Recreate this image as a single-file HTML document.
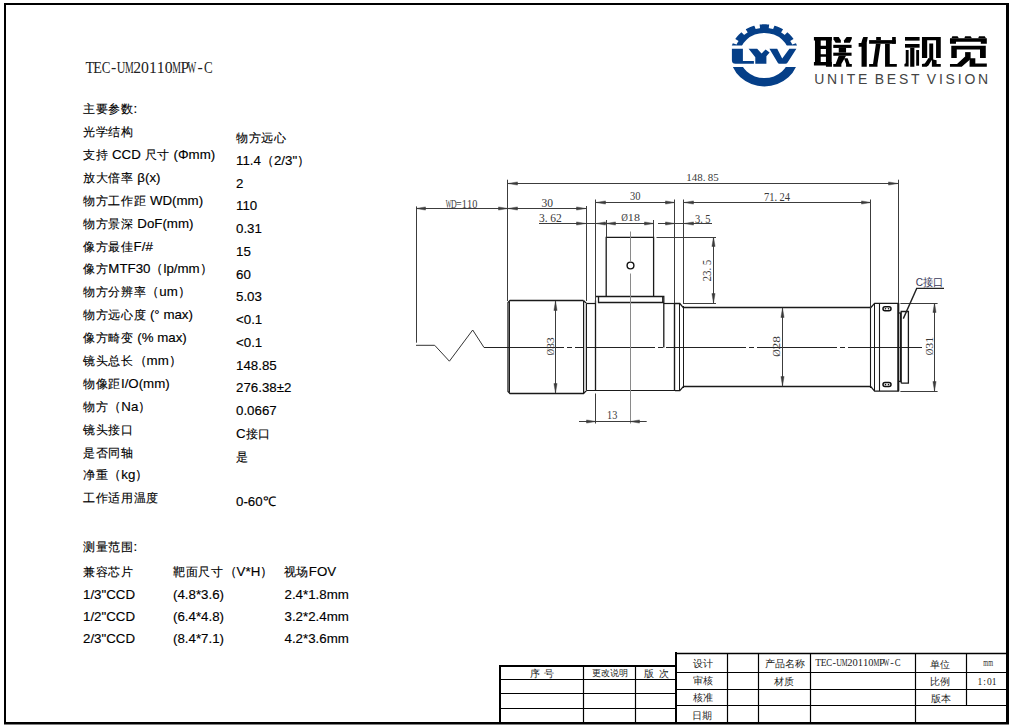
<!DOCTYPE html>
<html><head><meta charset="utf-8"><style>
html,body{margin:0;padding:0;background:#fff;width:1014px;height:727px;overflow:hidden;position:relative}
.t{position:absolute;white-space:nowrap;line-height:1;}
.c{font-size:12.2px;letter-spacing:0.65px;-webkit-text-stroke:0.12px #000}
svg{position:absolute;left:0;top:0}
</style></head><body>
<svg width="1014" height="727" viewBox="0 0 1014 727">
<rect x="4" y="3" width="1005" height="2" fill="#000"/>
<rect x="4" y="3" width="2" height="721" fill="#000"/>
<rect x="1006" y="3" width="3" height="721" fill="#000"/>
<rect x="4" y="722" width="1005" height="2.5" fill="#000"/>
<g stroke="#000" fill="none">
<rect x="499" y="665" width="2" height="58" fill="#000" stroke="none"/>
<rect x="499" y="665" width="177" height="2" fill="#000" stroke="none"/>
<rect x="675" y="652" width="2" height="71" fill="#000" stroke="none"/>
<line x1="500" y1="679.5" x2="676" y2="679.5" stroke-width="1.2"/>
<line x1="500" y1="693.5" x2="676" y2="693.5" stroke-width="1.2"/>
<line x1="500" y1="708.5" x2="676" y2="708.5" stroke-width="1.2"/>
<line x1="583.5" y1="666" x2="583.5" y2="722" stroke-width="1.2"/>
<line x1="635.5" y1="666" x2="635.5" y2="722" stroke-width="1.2"/>
<line x1="676" y1="653.5" x2="1006" y2="653.5" stroke-width="1.3"/>
<line x1="676" y1="672.5" x2="1006" y2="672.5" stroke-width="1.2"/>
<line x1="676" y1="689.5" x2="1006" y2="689.5" stroke-width="1.2"/>
<line x1="676" y1="705.5" x2="1006" y2="705.5" stroke-width="1.2"/>
<line x1="727.5" y1="653" x2="727.5" y2="722" stroke-width="1.2"/>
<line x1="758.5" y1="653" x2="758.5" y2="722" stroke-width="1.2"/>
<line x1="810.5" y1="653" x2="810.5" y2="722" stroke-width="1.2"/>
<line x1="915.5" y1="653" x2="915.5" y2="722" stroke-width="1.2"/>
<line x1="966.5" y1="653" x2="966.5" y2="705.5" stroke-width="1.2"/>
</g>
<line x1="484" y1="347.5" x2="922" y2="347.5" stroke="#222" stroke-width="1" stroke-dasharray="80 3 5 3"/>
<polyline points="416,345.3 434.7,345.3 449.4,361.2 472.7,330 484,347.5" stroke="#333" stroke-width="1" fill="none" stroke-linejoin="miter"/>
<polyline points="583.5,300.5 510,300.5 508,302.5 508,391.5 510,393.5 583.5,393.5 586.4,390.5" stroke="#1a1a1a" stroke-width="1.3" fill="none" stroke-linejoin="miter"/>
<polyline points="583.5,300.5 586.4,303.5" stroke="#1a1a1a" stroke-width="1.3" fill="none" stroke-linejoin="miter"/>
<line x1="509.5" y1="301.5" x2="509.5" y2="392.5" stroke="#1a1a1a" stroke-width="1"/>
<line x1="583.5" y1="301" x2="583.5" y2="393" stroke="#1a1a1a" stroke-width="1"/>
<line x1="586.5" y1="303.5" x2="586.5" y2="390.5" stroke="#1a1a1a" stroke-width="1"/>
<rect x="584" y="303" width="2" height="88" fill="#ccc"/>
<line x1="586.4" y1="303.5" x2="596" y2="303.5" stroke="#1a1a1a" stroke-width="1.2"/>
<line x1="586.4" y1="390.5" x2="675" y2="390.5" stroke="#1a1a1a" stroke-width="1.2"/>
<line x1="595.5" y1="300.5" x2="595.5" y2="390.5" stroke="#1a1a1a" stroke-width="1.3"/>
<line x1="663.8" y1="303.5" x2="675" y2="303.5" stroke="#1a1a1a" stroke-width="1.2"/>
<line x1="674.5" y1="303" x2="674.5" y2="390.6" stroke="#1a1a1a" stroke-width="1.4"/>
<polyline points="596,296.5 663.8,296.5 663.8,347.5" stroke="#1a1a1a" stroke-width="1.3" fill="none" stroke-linejoin="miter"/>
<polyline points="598.5,296.5 598.5,302.5 663.8,302.5" stroke="#1a1a1a" stroke-width="1.3" fill="none" stroke-linejoin="miter"/>
<line x1="662.5" y1="297" x2="662.5" y2="302.4" stroke="#1a1a1a" stroke-width="0.9"/>
<polyline points="606.2,296.6 606.2,237.3 653.6,237.3 653.6,296.6" stroke="#1a1a1a" stroke-width="1.3" fill="none" stroke-linejoin="miter"/>
<circle cx="630.5" cy="265.5" r="3.4" fill="none" stroke="#111" stroke-width="1.4"/>
<line x1="679.5" y1="303.4" x2="679.5" y2="390.6" stroke="#1a1a1a" stroke-width="1"/>
<polyline points="675,303.5 679.8,303.5 683.5,307.8" stroke="#1a1a1a" stroke-width="1.3" fill="none" stroke-linejoin="miter"/>
<polyline points="675,390.6 679.8,390.6 683.5,386.3" stroke="#1a1a1a" stroke-width="1.3" fill="none" stroke-linejoin="miter"/>
<line x1="683.5" y1="307.5" x2="870.5" y2="307.5" stroke="#1a1a1a" stroke-width="1.3"/>
<line x1="683.5" y1="386.5" x2="870.5" y2="386.5" stroke="#1a1a1a" stroke-width="1.3"/>
<line x1="683.5" y1="306" x2="683.5" y2="388" stroke="#1a1a1a" stroke-width="1"/>
<polyline points="870.6,307.8 874.6,303.3 898,303.3 898,391.1 874.6,391.1 870.6,386.3" stroke="#1a1a1a" stroke-width="1.3" fill="none" stroke-linejoin="miter"/>
<line x1="870.5" y1="306" x2="870.5" y2="388" stroke="#1a1a1a" stroke-width="1.1"/>
<line x1="874.5" y1="303.5" x2="874.5" y2="391" stroke="#1a1a1a" stroke-width="1"/>
<line x1="879.5" y1="303.5" x2="879.5" y2="391" stroke="#1a1a1a" stroke-width="1.1"/>
<line x1="898.5" y1="303" x2="898.5" y2="391.5" stroke="#1a1a1a" stroke-width="1.6"/>
<rect x="883" y="306.8" width="8" height="4" rx="2" fill="none" stroke="#111" stroke-width="1.5"/>
<circle cx="885.5" cy="308.8" r="0.8" fill="#111"/><circle cx="888.5" cy="308.8" r="0.8" fill="#111"/>
<rect x="883" y="382.6" width="8" height="4" rx="2" fill="none" stroke="#111" stroke-width="1.5"/>
<circle cx="885.5" cy="384.6" r="0.8" fill="#111"/><circle cx="888.5" cy="384.6" r="0.8" fill="#111"/>
<polyline points="898.5,313 901.2,313" stroke="#1a1a1a" stroke-width="1.3" fill="none" stroke-linejoin="miter"/>
<polyline points="898.5,381.4 901.2,381.4" stroke="#1a1a1a" stroke-width="1.3" fill="none" stroke-linejoin="miter"/>
<line x1="900.5" y1="313" x2="900.5" y2="381.4" stroke="#1a1a1a" stroke-width="1"/>
<polyline points="901.2,383.2 901.2,311.5 908.4,311.5 908.4,383.2 901.2,383.2" stroke="#1a1a1a" stroke-width="1.3" fill="none" stroke-linejoin="miter"/>
<line x1="416.5" y1="206.4" x2="416.5" y2="342.7" stroke="#3c3c3c" stroke-width="1.0"/>
<line x1="507.5" y1="179.7" x2="507.5" y2="301" stroke="#3c3c3c" stroke-width="1.0"/>
<line x1="898.5" y1="179.7" x2="898.5" y2="303" stroke="#3c3c3c" stroke-width="1.0"/>
<line x1="507.5" y1="183.5" x2="898.5" y2="183.5" stroke="#3c3c3c" stroke-width="1.0"/>
<polygon points="508,183.5 517.5,181.9 517.5,185.1" fill="#3a3a3a" stroke="#3a3a3a" stroke-width="0.4"/>
<polygon points="898,183.5 888.5,181.9 888.5,185.1" fill="#3a3a3a" stroke="#3a3a3a" stroke-width="0.4"/>
<line x1="416" y1="208.5" x2="586" y2="208.5" stroke="#3c3c3c" stroke-width="1.0"/>
<polygon points="416,208.5 425.5,206.9 425.5,210.1" fill="#3a3a3a" stroke="#3a3a3a" stroke-width="0.4"/>
<polygon points="508,208.5 498.5,206.9 498.5,210.1" fill="#3a3a3a" stroke="#3a3a3a" stroke-width="0.4"/>
<polygon points="508,208.5 517.5,206.9 517.5,210.1" fill="#3a3a3a" stroke="#3a3a3a" stroke-width="0.4"/>
<polygon points="586,208.5 576.5,206.9 576.5,210.1" fill="#3a3a3a" stroke="#3a3a3a" stroke-width="0.4"/>
<line x1="586.5" y1="206" x2="586.5" y2="301" stroke="#3c3c3c" stroke-width="1.0"/>
<line x1="539" y1="223.5" x2="653.6" y2="223.5" stroke="#3c3c3c" stroke-width="1.0"/>
<polygon points="586,223.5 576.5,221.9 576.5,225.1" fill="#3a3a3a" stroke="#3a3a3a" stroke-width="0.4"/>
<polygon points="596,223.5 605.5,221.9 605.5,225.1" fill="#3a3a3a" stroke="#3a3a3a" stroke-width="0.4"/>
<line x1="595.5" y1="199.5" x2="595.5" y2="303" stroke="#3c3c3c" stroke-width="1.0"/>
<polygon points="606,223.5 615.5,221.9 615.5,225.1" fill="#3a3a3a" stroke="#3a3a3a" stroke-width="0.4"/>
<polygon points="654,223.5 644.5,221.9 644.5,225.1" fill="#3a3a3a" stroke="#3a3a3a" stroke-width="0.4"/>
<line x1="606.5" y1="220" x2="606.5" y2="237.3" stroke="#3c3c3c" stroke-width="1.0"/>
<line x1="653.5" y1="220" x2="653.5" y2="237.3" stroke="#3c3c3c" stroke-width="1.0"/>
<line x1="658" y1="223.5" x2="712" y2="223.5" stroke="#3c3c3c" stroke-width="1.0"/>
<polygon points="675,223.5 665.5,221.9 665.5,225.1" fill="#3a3a3a" stroke="#3a3a3a" stroke-width="0.4"/>
<polygon points="684,223.5 693.5,221.9 693.5,225.1" fill="#3a3a3a" stroke="#3a3a3a" stroke-width="0.4"/>
<line x1="595.5" y1="202.5" x2="674.8" y2="202.5" stroke="#3c3c3c" stroke-width="1.0"/>
<polygon points="596,202.5 605.5,200.9 605.5,204.1" fill="#3a3a3a" stroke="#3a3a3a" stroke-width="0.4"/>
<polygon points="675,202.5 665.5,200.9 665.5,204.1" fill="#3a3a3a" stroke="#3a3a3a" stroke-width="0.4"/>
<line x1="674.5" y1="199.5" x2="674.5" y2="303" stroke="#3c3c3c" stroke-width="1.0"/>
<line x1="683.5" y1="202.5" x2="870.8" y2="202.5" stroke="#3c3c3c" stroke-width="1.0"/>
<polygon points="684,202.5 693.5,200.9 693.5,204.1" fill="#3a3a3a" stroke="#3a3a3a" stroke-width="0.4"/>
<polygon points="871,202.5 861.5,200.9 861.5,204.1" fill="#3a3a3a" stroke="#3a3a3a" stroke-width="0.4"/>
<line x1="683.5" y1="199.5" x2="683.5" y2="304" stroke="#3c3c3c" stroke-width="1.0"/>
<line x1="870.5" y1="199.5" x2="870.5" y2="307.8" stroke="#3c3c3c" stroke-width="1.0"/>
<line x1="656.5" y1="237.5" x2="716" y2="237.5" stroke="#3c3c3c" stroke-width="1.0"/>
<line x1="683" y1="303.5" x2="716" y2="303.5" stroke="#3c3c3c" stroke-width="1.0"/>
<line x1="713.5" y1="237.3" x2="713.5" y2="303.4" stroke="#3c3c3c" stroke-width="1.0"/>
<polygon points="713.5,237 711.9,246.5 715.1,246.5" fill="#3a3a3a" stroke="#3a3a3a" stroke-width="0.4"/>
<polygon points="713.5,303 711.9,293.5 715.1,293.5" fill="#3a3a3a" stroke="#3a3a3a" stroke-width="0.4"/>
<line x1="555.5" y1="301" x2="555.5" y2="393" stroke="#3c3c3c" stroke-width="1.0"/>
<polygon points="555.5,301 553.9,310.5 557.1,310.5" fill="#3a3a3a" stroke="#3a3a3a" stroke-width="0.4"/>
<polygon points="555.5,393 553.9,383.5 557.1,383.5" fill="#3a3a3a" stroke="#3a3a3a" stroke-width="0.4"/>
<line x1="782.5" y1="307.8" x2="782.5" y2="386.3" stroke="#3c3c3c" stroke-width="1.0"/>
<polygon points="782.5,308 780.9,317.5 784.1,317.5" fill="#3a3a3a" stroke="#3a3a3a" stroke-width="0.4"/>
<polygon points="782.5,386 780.9,376.5 784.1,376.5" fill="#3a3a3a" stroke="#3a3a3a" stroke-width="0.4"/>
<line x1="900.4" y1="303.5" x2="937.6" y2="303.5" stroke="#3c3c3c" stroke-width="1.0"/>
<line x1="900.4" y1="391.5" x2="937.6" y2="391.5" stroke="#3c3c3c" stroke-width="1.0"/>
<line x1="934.5" y1="303.3" x2="934.5" y2="391.1" stroke="#3c3c3c" stroke-width="1.0"/>
<polygon points="934.5,303 932.9,312.5 936.1,312.5" fill="#3a3a3a" stroke="#3a3a3a" stroke-width="0.4"/>
<polygon points="934.5,391 932.9,381.5 936.1,381.5" fill="#3a3a3a" stroke="#3a3a3a" stroke-width="0.4"/>
<line x1="595.5" y1="393.5" x2="595.5" y2="423.5" stroke="#3c3c3c" stroke-width="1.0"/>
<line x1="630.5" y1="231.5" x2="630.5" y2="262" stroke="#8a8a8a" stroke-width="1.0"/>
<line x1="630.5" y1="273.5" x2="630.5" y2="423.5" stroke="#8a8a8a" stroke-width="1.0"/>
<line x1="579" y1="421.5" x2="646.7" y2="421.5" stroke="#3c3c3c" stroke-width="1.0"/>
<polygon points="596,421.5 586.5,419.9 586.5,423.1" fill="#3a3a3a" stroke="#3a3a3a" stroke-width="0.4"/>
<polygon points="630,421.5 639.5,419.9 639.5,423.1" fill="#3a3a3a" stroke="#3a3a3a" stroke-width="0.4"/>
<polyline points="903.3,318.6 916.7,288.4 944,288.4" stroke="#222" stroke-width="1.4" fill="none" stroke-linejoin="miter"/>
<g fill="#000" fill-rule="evenodd"><path d="M813.92,36.97 L831.95,36.97 L831.95,40.62 L831.69,40.62 L831.69,62.06 L831.95,62.06 L831.95,66.76 L825.94,66.76 L825.94,65.45 L813.92,65.45 L813.92,62.06 L814.97,62.06 L814.97,40.62 L813.92,40.62 Z M820.72,40.62 L825.94,40.62 L825.94,45.85 L820.72,45.85 Z M820.72,48.99 L825.94,48.99 L825.94,54.22 L820.72,54.22 Z M820.72,56.83 L825.94,56.83 L825.94,62.06 L820.72,62.06 Z"/><path d="M833.52,36.97 L838.75,36.97 L840.84,40.36 L840.84,42.72 L835.61,42.72 L833.52,39.32 Z"/><path d="M846.59,36.97 L851.82,36.97 L851.82,38.80 L849.99,42.72 L843.98,42.72 L843.98,40.62 Z"/><path d="M833.26,44.81 L851.56,44.81 L851.56,47.94 L833.26,47.94 Z"/><path d="M833.26,52.65 L851.56,52.65 L851.56,55.78 L833.26,55.78 Z"/><path d="M838.75,47.94 L846.07,47.94 L846.07,52.65 L838.75,52.65 Z"/><path d="M838.75,55.78 L846.07,55.78 L841.36,63.89 L841.36,66.76 L833.26,66.76 L833.26,63.89 L835.61,63.89 Z"/><path d="M843.98,58.14 L847.64,58.14 L849.73,63.89 L851.82,63.89 L851.82,66.76 L846.07,66.76 L846.07,63.89 Z"/><path d="M863.36,36.97 L867.81,36.97 L866.76,42.45 L866.76,66.76 L861.53,66.76 L861.53,46.64 L858.66,46.64 L858.66,42.98 L861.27,42.98 L862.32,39.32 Z"/><path d="M869.11,40.10 L895.77,40.10 L895.77,43.76 L869.11,43.76 Z"/><path d="M892.11,36.97 L895.77,36.97 L895.77,43.76 L892.11,43.76 Z"/><path d="M876.17,36.97 L880.88,36.97 L880.88,40.10 L876.17,40.10 Z"/><path d="M875.91,43.76 L880.61,43.76 L877.48,63.89 L877.48,66.76 L869.11,66.76 L869.11,63.89 L873.03,63.89 Z"/><path d="M885.06,43.76 L889.76,43.76 L889.76,63.89 L896.82,63.89 L896.82,66.76 L885.06,66.76 Z"/><path d="M904.97,36.97 L919.60,36.97 L919.60,40.62 L904.97,40.62 Z"/><path d="M904.97,44.02 L919.60,44.02 L919.60,47.68 L904.97,47.68 Z"/><path d="M910.19,47.68 L914.38,47.68 L914.38,66.76 L910.19,66.76 Z"/><path d="M905.75,50.03 L908.62,50.03 L908.62,66.50 L904.44,66.50 L904.44,63.89 L905.75,63.36 Z"/><path d="M916.20,50.03 L919.08,50.03 L919.08,65.72 L916.20,65.72 Z"/><path d="M921.95,36.97 L940.77,36.97 L940.77,57.88 L936.07,57.88 L936.07,40.36 L927.18,40.36 L927.18,57.88 L921.95,57.88 Z"/><path d="M929.27,43.50 L933.19,43.50 L933.19,60.23 L929.27,60.23 Z"/><path d="M928.49,57.88 L932.15,59.18 L928.49,65.45 L926.66,66.76 L921.95,66.76 L921.95,63.89 L924.83,63.62 Z"/><path d="M931.89,59.18 L936.59,60.23 L936.59,63.89 L940.77,63.89 L940.77,66.76 L931.89,66.76 Z"/><path d="M952.32,36.18 L957.55,36.18 L958.85,38.27 L951.53,38.27 Z"/><path d="M965.12,36.18 L970.61,36.18 L971.92,38.27 L964.34,38.27 Z"/><path d="M978.98,36.18 L984.73,36.18 L986.03,38.27 L978.19,38.27 Z"/><path d="M949.97,38.27 L986.82,38.27 L986.82,43.76 L980.81,43.76 L980.81,41.67 L955.98,41.67 L955.98,43.76 L949.97,43.76 Z"/><path d="M951.27,45.85 L985.77,45.85 L985.77,57.88 L980.02,57.88 L980.02,49.51 L956.76,49.51 L956.76,57.88 L951.27,57.88 Z"/><path d="M965.12,52.12 L970.61,52.12 L970.61,58.92 L965.12,58.92 Z"/><path d="M965.12,56.57 L970.61,58.92 L961.73,66.76 L949.97,66.76 L949.97,63.89 L957.02,63.89 Z"/><path d="M969.57,58.14 L975.32,58.14 L975.32,63.62 L986.82,63.62 L986.82,66.76 L969.57,66.76 Z"/></g>
<defs><clipPath id="ctop"><rect x="720" y="10" width="90" height="35.6"/></clipPath><clipPath id="cbot"><rect x="720" y="67" width="90" height="40"/></clipPath></defs>
<g clip-path="url(#ctop)"><path transform="translate(764.4,55.5) scale(1.1,1) translate(-764.4,-55.5)" d="M736.80,55.50 L736.80,55.38 L736.80,55.26 L736.80,55.14 L736.80,55.02 L736.81,54.90 L736.81,54.78 L736.81,54.66 L736.82,54.54 L736.82,54.42 L736.83,54.30 L736.83,54.18 L736.84,54.06 L736.84,53.94 L736.85,53.82 L736.86,53.69 L736.87,53.57 L736.88,53.45 L736.89,53.33 L736.89,53.21 L736.91,53.09 L736.92,52.97 L736.93,52.85 L736.94,52.73 L736.95,52.62 L736.96,52.50 L736.98,52.38 L736.99,52.26 L733.43,51.70 L733.45,51.56 L733.47,51.43 L733.48,51.29 L733.50,51.16 L733.52,51.02 L733.54,50.89 L733.56,50.75 L733.58,50.62 L733.61,50.48 L733.63,50.35 L733.65,50.22 L733.67,50.08 L733.70,49.95 L733.72,49.81 L733.75,49.68 L733.77,49.55 L733.80,49.41 L733.83,49.28 L733.85,49.15 L733.88,49.01 L733.91,48.88 L733.94,48.75 L733.97,48.61 L734.00,48.48 L734.03,48.35 L734.06,48.22 L734.09,48.08 L734.13,47.95 L734.16,47.82 L734.19,47.69 L734.23,47.56 L734.26,47.42 L734.30,47.29 L734.33,47.16 L734.37,47.03 L734.41,46.90 L734.45,46.77 L734.48,46.64 L734.52,46.51 L734.56,46.38 L734.60,46.25 L734.64,46.12 L734.69,45.99 L734.73,45.86 L734.77,45.73 L734.81,45.60 L734.86,45.47 L734.90,45.34 L734.94,45.21 L734.99,45.09 L735.04,44.96 L735.08,44.83 L735.13,44.70 L735.18,44.57 L735.22,44.45 L735.27,44.32 L735.32,44.19 L735.37,44.07 L735.42,43.94 L735.47,43.81 L735.52,43.69 L735.57,43.56 L735.63,43.43 L735.68,43.31 L739.04,44.61 L739.09,44.49 L739.14,44.38 L739.19,44.27 L739.24,44.16 L739.29,44.05 L739.34,43.94 L739.39,43.84 L739.44,43.73 L739.49,43.62 L739.54,43.51 L739.59,43.40 L739.65,43.29 L739.70,43.18 L739.75,43.08 L739.81,42.97 L739.86,42.86 L739.92,42.76 L739.97,42.65 L740.03,42.54 L740.09,42.44 L740.14,42.33 L740.20,42.22 L740.26,42.12 L740.32,42.01 L740.38,41.91 L740.44,41.80 L740.50,41.70 L740.56,41.60 L740.62,41.49 L740.68,41.39 L740.74,41.28 L740.80,41.18 L740.87,41.08 L740.93,40.98 L737.94,38.97 L738.01,38.85 L738.09,38.74 L738.16,38.62 L738.23,38.51 L738.31,38.39 L738.38,38.28 L738.46,38.17 L738.53,38.05 L738.61,37.94 L738.69,37.83 L738.76,37.72 L738.84,37.60 L738.92,37.49 L739.00,37.38 L739.08,37.27 L739.16,37.16 L739.24,37.05 L739.32,36.94 L739.40,36.83 L739.48,36.72 L739.56,36.61 L739.65,36.51 L739.73,36.40 L739.81,36.29 L739.90,36.18 L739.98,36.08 L740.07,35.97 L740.15,35.87 L740.24,35.76 L740.33,35.65 L740.41,35.55 L740.50,35.45 L740.59,35.34 L740.68,35.24 L740.76,35.13 L740.85,35.03 L740.94,34.93 L741.03,34.83 L741.12,34.72 L741.21,34.62 L741.31,34.52 L741.40,34.42 L741.49,34.32 L741.58,34.22 L741.67,34.12 L741.77,34.02 L741.86,33.92 L741.96,33.83 L742.05,33.73 L742.15,33.63 L742.24,33.53 L742.34,33.44 L742.43,33.34 L742.53,33.25 L742.63,33.15 L742.73,33.06 L742.82,32.96 L742.92,32.87 L743.02,32.77 L743.12,32.68 L743.22,32.59 L743.32,32.50 L743.42,32.41 L743.52,32.31 L746.02,34.91 L746.11,34.83 L746.20,34.75 L746.29,34.67 L746.38,34.59 L746.48,34.51 L746.57,34.43 L746.66,34.36 L746.75,34.28 L746.84,34.20 L746.94,34.13 L747.03,34.05 L747.12,33.98 L747.22,33.90 L747.31,33.83 L747.41,33.75 L747.50,33.68 L747.60,33.60 L747.69,33.53 L747.79,33.46 L747.89,33.39 L747.98,33.31 L748.08,33.24 L748.18,33.17 L748.27,33.10 L748.37,33.03 L748.47,32.96 L748.57,32.89 L748.67,32.82 L748.77,32.75 L748.87,32.69 L748.97,32.62 L749.07,32.55 L749.17,32.48 L749.27,32.42 L747.41,29.33 L747.52,29.26 L747.64,29.19 L747.75,29.11 L747.87,29.04 L747.98,28.97 L748.10,28.90 L748.21,28.83 L748.33,28.76 L748.45,28.69 L748.56,28.62 L748.68,28.55 L748.80,28.48 L748.92,28.41 L749.04,28.34 L749.16,28.28 L749.27,28.21 L749.39,28.15 L749.51,28.08 L749.63,28.02 L749.75,27.95 L749.87,27.89 L749.99,27.83 L750.11,27.76 L750.24,27.70 L750.36,27.64 L750.48,27.58 L750.60,27.52 L750.72,27.46 L750.85,27.40 L750.97,27.34 L751.09,27.28 L751.21,27.22 L751.34,27.17 L751.46,27.11 L751.59,27.05 L751.71,27.00 L751.83,26.94 L751.96,26.89 L752.08,26.83 L752.21,26.78 L752.33,26.73 L752.46,26.67 L752.59,26.62 L752.71,26.57 L752.84,26.52 L752.97,26.47 L753.09,26.42 L753.22,26.37 L753.35,26.32 L753.47,26.28 L753.60,26.23 L753.73,26.18 L753.86,26.14 L753.99,26.09 L754.11,26.04 L754.24,26.00 L754.37,25.96 L754.50,25.91 L754.63,25.87 L754.76,25.83 L754.89,25.79 L755.02,25.74 L755.15,25.70 L755.28,25.66 L756.45,29.07 L756.56,29.04 L756.68,29.00 L756.79,28.97 L756.91,28.94 L757.02,28.90 L757.14,28.87 L757.26,28.84 L757.37,28.81 L757.49,28.78 L757.61,28.75 L757.72,28.72 L757.84,28.69 L757.96,28.66 L758.07,28.63 L758.19,28.61 L758.31,28.58 L758.43,28.55 L758.54,28.53 L758.66,28.50 L758.78,28.48 L758.90,28.45 L759.02,28.43 L759.13,28.41 L759.25,28.38 L759.37,28.36 L759.49,28.34 L759.61,28.32 L759.73,28.30 L759.84,28.28 L759.96,28.26 L760.08,28.24 L760.20,28.22 L760.32,28.20 L760.44,28.19 L760.06,24.60 L760.19,24.58 L760.33,24.57 L760.46,24.55 L760.60,24.53 L760.73,24.52 L760.87,24.50 L761.00,24.49 L761.14,24.47 L761.27,24.46 L761.41,24.44 L761.55,24.43 L761.68,24.42 L761.82,24.41 L761.95,24.40 L762.09,24.39 L762.22,24.38 L762.36,24.37 L762.50,24.36 L762.63,24.35 L762.77,24.34 L762.90,24.34 L763.04,24.33 L763.18,24.32 L763.31,24.32 L763.45,24.31 L763.58,24.31 L763.72,24.31 L763.86,24.30 L763.99,24.30 L764.13,24.30 L764.26,24.30 L764.40,24.30 L764.54,24.30 L764.67,24.30 L764.81,24.30 L764.94,24.30 L765.08,24.31 L765.22,24.31 L765.35,24.31 L765.49,24.32 L765.62,24.32 L765.76,24.33 L765.90,24.34 L766.03,24.34 L766.17,24.35 L766.30,24.36 L766.44,24.37 L766.58,24.38 L766.71,24.39 L766.85,24.40 L766.98,24.41 L767.12,24.42 L767.25,24.43 L767.39,24.44 L767.53,24.46 L767.66,24.47 L767.80,24.49 L767.93,24.50 L768.07,24.52 L768.20,24.53 L768.34,24.55 L768.47,24.57 L768.61,24.58 L768.74,24.60 L768.36,28.19 L768.48,28.20 L768.60,28.22 L768.72,28.24 L768.84,28.26 L768.96,28.28 L769.07,28.30 L769.19,28.32 L769.31,28.34 L769.43,28.36 L769.55,28.38 L769.67,28.41 L769.78,28.43 L769.90,28.45 L770.02,28.48 L770.14,28.50 L770.26,28.53 L770.37,28.55 L770.49,28.58 L770.61,28.61 L770.73,28.63 L770.84,28.66 L770.96,28.69 L771.08,28.72 L771.19,28.75 L771.31,28.78 L771.43,28.81 L771.54,28.84 L771.66,28.87 L771.78,28.90 L771.89,28.94 L772.01,28.97 L772.12,29.00 L772.24,29.04 L772.35,29.07 L773.52,25.66 L773.65,25.70 L773.78,25.74 L773.91,25.79 L774.04,25.83 L774.17,25.87 L774.30,25.91 L774.43,25.96 L774.56,26.00 L774.69,26.04 L774.81,26.09 L774.94,26.14 L775.07,26.18 L775.20,26.23 L775.33,26.28 L775.45,26.32 L775.58,26.37 L775.71,26.42 L775.83,26.47 L775.96,26.52 L776.09,26.57 L776.21,26.62 L776.34,26.67 L776.47,26.73 L776.59,26.78 L776.72,26.83 L776.84,26.89 L776.97,26.94 L777.09,27.00 L777.21,27.05 L777.34,27.11 L777.46,27.17 L777.59,27.22 L777.71,27.28 L777.83,27.34 L777.95,27.40 L778.08,27.46 L778.20,27.52 L778.32,27.58 L778.44,27.64 L778.56,27.70 L778.69,27.76 L778.81,27.83 L778.93,27.89 L779.05,27.95 L779.17,28.02 L779.29,28.08 L779.41,28.15 L779.53,28.21 L779.64,28.28 L779.76,28.34 L779.88,28.41 L780.00,28.48 L780.12,28.55 L780.24,28.62 L780.35,28.69 L780.47,28.76 L780.59,28.83 L780.70,28.90 L780.82,28.97 L780.93,29.04 L781.05,29.11 L781.16,29.19 L781.28,29.26 L781.39,29.33 L779.53,32.42 L779.63,32.48 L779.73,32.55 L779.83,32.62 L779.93,32.69 L780.03,32.75 L780.13,32.82 L780.23,32.89 L780.33,32.96 L780.43,33.03 L780.53,33.10 L780.62,33.17 L780.72,33.24 L780.82,33.31 L780.91,33.39 L781.01,33.46 L781.11,33.53 L781.20,33.60 L781.30,33.68 L781.39,33.75 L781.49,33.83 L781.58,33.90 L781.68,33.98 L781.77,34.05 L781.86,34.13 L781.96,34.20 L782.05,34.28 L782.14,34.36 L782.23,34.43 L782.32,34.51 L782.42,34.59 L782.51,34.67 L782.60,34.75 L782.69,34.83 L782.78,34.91 L785.28,32.31 L785.38,32.41 L785.48,32.50 L785.58,32.59 L785.68,32.68 L785.78,32.77 L785.88,32.87 L785.98,32.96 L786.07,33.06 L786.17,33.15 L786.27,33.25 L786.37,33.34 L786.46,33.44 L786.56,33.53 L786.65,33.63 L786.75,33.73 L786.84,33.83 L786.94,33.92 L787.03,34.02 L787.13,34.12 L787.22,34.22 L787.31,34.32 L787.40,34.42 L787.49,34.52 L787.59,34.62 L787.68,34.72 L787.77,34.83 L787.86,34.93 L787.95,35.03 L788.04,35.13 L788.12,35.24 L788.21,35.34 L788.30,35.45 L788.39,35.55 L788.47,35.65 L788.56,35.76 L788.65,35.87 L788.73,35.97 L788.82,36.08 L788.90,36.18 L788.99,36.29 L789.07,36.40 L789.15,36.51 L789.24,36.61 L789.32,36.72 L789.40,36.83 L789.48,36.94 L789.56,37.05 L789.64,37.16 L789.72,37.27 L789.80,37.38 L789.88,37.49 L789.96,37.60 L790.04,37.72 L790.11,37.83 L790.19,37.94 L790.27,38.05 L790.34,38.17 L790.42,38.28 L790.49,38.39 L790.57,38.51 L790.64,38.62 L790.71,38.74 L790.79,38.85 L790.86,38.97 L787.87,40.98 L787.93,41.08 L788.00,41.18 L788.06,41.28 L788.12,41.39 L788.18,41.49 L788.24,41.60 L788.30,41.70 L788.36,41.80 L788.42,41.91 L788.48,42.01 L788.54,42.12 L788.60,42.22 L788.66,42.33 L788.71,42.44 L788.77,42.54 L788.83,42.65 L788.88,42.76 L788.94,42.86 L788.99,42.97 L789.05,43.08 L789.10,43.18 L789.15,43.29 L789.21,43.40 L789.26,43.51 L789.31,43.62 L789.36,43.73 L789.41,43.84 L789.46,43.94 L789.51,44.05 L789.56,44.16 L789.61,44.27 L789.66,44.38 L789.71,44.49 L789.76,44.61 L793.12,43.31 L793.17,43.43 L793.23,43.56 L793.28,43.69 L793.33,43.81 L793.38,43.94 L793.43,44.07 L793.48,44.19 L793.53,44.32 L793.58,44.45 L793.62,44.57 L793.67,44.70 L793.72,44.83 L793.76,44.96 L793.81,45.09 L793.86,45.21 L793.90,45.34 L793.94,45.47 L793.99,45.60 L794.03,45.73 L794.07,45.86 L794.11,45.99 L794.16,46.12 L794.20,46.25 L794.24,46.38 L794.28,46.51 L794.32,46.64 L794.35,46.77 L794.39,46.90 L794.43,47.03 L794.47,47.16 L794.50,47.29 L794.54,47.42 L794.57,47.56 L794.61,47.69 L794.64,47.82 L794.67,47.95 L794.71,48.08 L794.74,48.22 L794.77,48.35 L794.80,48.48 L794.83,48.61 L794.86,48.75 L794.89,48.88 L794.92,49.01 L794.95,49.15 L794.97,49.28 L795.00,49.41 L795.03,49.55 L795.05,49.68 L795.08,49.81 L795.10,49.95 L795.13,50.08 L795.15,50.22 L795.17,50.35 L795.19,50.48 L795.22,50.62 L795.24,50.75 L795.26,50.89 L795.28,51.02 L795.30,51.16 L795.32,51.29 L795.33,51.43 L795.35,51.56 L795.37,51.70 L791.81,52.26 L791.82,52.38 L791.84,52.50 L791.85,52.62 L791.86,52.73 L791.87,52.85 L791.88,52.97 L791.89,53.09 L791.91,53.21 L791.91,53.33 L791.92,53.45 L791.93,53.57 L791.94,53.69 L791.95,53.82 L791.96,53.94 L791.96,54.06 L791.97,54.18 L791.97,54.30 L791.98,54.42 L791.98,54.54 L791.99,54.66 L791.99,54.78 L791.99,54.90 L792.00,55.02 L792.00,55.14 L792.00,55.26 L792.00,55.38 L792.00,55.50 L795.6,60.5 L733.1999999999999,60.5 Z M741.8,55.5 A22.6,22.6 0 1 0 787.0,55.5 A22.6,22.6 0 1 0 741.8,55.5 Z" fill="#053f88" fill-rule="evenodd"/></g>
<g clip-path="url(#cbot)"><path transform="translate(764.4,55.5) scale(1.1,1) translate(-764.4,-55.5)" d="M733.5,55.5 A30.9,30.9 0 1 0 795.3,55.5 A30.9,30.9 0 1 0 733.5,55.5 Z M741.8,55.5 A22.6,22.6 0 1 0 787.0,55.5 A22.6,22.6 0 1 0 741.8,55.5 Z" fill="#053f88" fill-rule="evenodd"/></g>
<path d="M731.9,48.75 H742.9 V61.1 H753.9 V63.8 H735.5 Q731.9,63.8 731.9,60.2 Z" fill="#053f88"/>
<path d="M748.6,48.75 H757.2 L761.5,53.6 L765.6,49.6 L769.6,52.6 L766.4,56.2 V63.8 H755.3 V57.2 Z" fill="#053f88"/>
<path d="M769.4,48.75 H777.2 L782.2,58.6 L789.4,48.75 H796.4 L787.6,62.6 Q786.8,63.8 785.4,63.8 H779.4 Q778.2,63.8 777.6,62.6 Z" fill="#053f88"/>
</svg>
<div class="t" style="left:83px;top:102.3px;font-size:13.3px;font-family:'Liberation Sans', sans-serif;color:#000;-webkit-text-stroke:0.15px #000"><span class="c">主要参数</span>:</div>
<div class="t" style="left:83px;top:125.18px;font-size:13.3px;font-family:'Liberation Sans', sans-serif;color:#000;-webkit-text-stroke:0.15px #000"><span class="c">光学结构</span></div>
<div class="t" style="left:83px;top:148.06px;font-size:13.3px;font-family:'Liberation Sans', sans-serif;color:#000;-webkit-text-stroke:0.15px #000"><span class="c">支持</span> CCD <span class="c">尺寸</span> (Φmm)</div>
<div class="t" style="left:83px;top:170.94px;font-size:13.3px;font-family:'Liberation Sans', sans-serif;color:#000;-webkit-text-stroke:0.15px #000"><span class="c">放大倍率</span> β(x)</div>
<div class="t" style="left:83px;top:193.82px;font-size:13.3px;font-family:'Liberation Sans', sans-serif;color:#000;-webkit-text-stroke:0.15px #000"><span class="c">物方工作距</span> WD(mm)</div>
<div class="t" style="left:83px;top:216.7px;font-size:13.3px;font-family:'Liberation Sans', sans-serif;color:#000;-webkit-text-stroke:0.15px #000"><span class="c">物方景深</span> DoF(mm)</div>
<div class="t" style="left:83px;top:239.58px;font-size:13.3px;font-family:'Liberation Sans', sans-serif;color:#000;-webkit-text-stroke:0.15px #000"><span class="c">像方最佳</span>F/#</div>
<div class="t" style="left:83px;top:262.46px;font-size:13.3px;font-family:'Liberation Sans', sans-serif;color:#000;-webkit-text-stroke:0.15px #000"><span class="c">像方</span>MTF30（lp/mm）</div>
<div class="t" style="left:83px;top:285.34px;font-size:13.3px;font-family:'Liberation Sans', sans-serif;color:#000;-webkit-text-stroke:0.15px #000"><span class="c">物方分辨率</span>（um）</div>
<div class="t" style="left:83px;top:308.22px;font-size:13.3px;font-family:'Liberation Sans', sans-serif;color:#000;-webkit-text-stroke:0.15px #000"><span class="c">物方远心度</span> (° max)</div>
<div class="t" style="left:83px;top:331.1px;font-size:13.3px;font-family:'Liberation Sans', sans-serif;color:#000;-webkit-text-stroke:0.15px #000"><span class="c">像方畸变</span> (% max)</div>
<div class="t" style="left:83px;top:353.98px;font-size:13.3px;font-family:'Liberation Sans', sans-serif;color:#000;-webkit-text-stroke:0.15px #000"><span class="c">镜头总长</span>（mm）</div>
<div class="t" style="left:83px;top:376.86px;font-size:13.3px;font-family:'Liberation Sans', sans-serif;color:#000;-webkit-text-stroke:0.15px #000"><span class="c">物像距</span>I/O(mm)</div>
<div class="t" style="left:83px;top:399.74px;font-size:13.3px;font-family:'Liberation Sans', sans-serif;color:#000;-webkit-text-stroke:0.15px #000"><span class="c">物方</span>（Na）</div>
<div class="t" style="left:83px;top:422.62px;font-size:13.3px;font-family:'Liberation Sans', sans-serif;color:#000;-webkit-text-stroke:0.15px #000"><span class="c">镜头接口</span></div>
<div class="t" style="left:83px;top:445.5px;font-size:13.3px;font-family:'Liberation Sans', sans-serif;color:#000;-webkit-text-stroke:0.15px #000"><span class="c">是否同轴</span></div>
<div class="t" style="left:83px;top:468.38px;font-size:13.3px;font-family:'Liberation Sans', sans-serif;color:#000;-webkit-text-stroke:0.15px #000"><span class="c">净重</span>（kg）</div>
<div class="t" style="left:83px;top:491.26px;font-size:13.3px;font-family:'Liberation Sans', sans-serif;color:#000;-webkit-text-stroke:0.15px #000"><span class="c">工作适用温度</span></div>
<div class="t" style="left:236px;top:131.2px;font-size:13.3px;font-family:'Liberation Sans', sans-serif;color:#000;-webkit-text-stroke:0.15px #000"><span class="c">物方远心</span></div>
<div class="t" style="left:236px;top:153.94px;font-size:13.3px;font-family:'Liberation Sans', sans-serif;color:#000;-webkit-text-stroke:0.15px #000">11.4（2/3"）</div>
<div class="t" style="left:236px;top:176.68px;font-size:13.3px;font-family:'Liberation Sans', sans-serif;color:#000;-webkit-text-stroke:0.15px #000">2</div>
<div class="t" style="left:236px;top:199.42px;font-size:13.3px;font-family:'Liberation Sans', sans-serif;color:#000;-webkit-text-stroke:0.15px #000">110</div>
<div class="t" style="left:236px;top:222.16px;font-size:13.3px;font-family:'Liberation Sans', sans-serif;color:#000;-webkit-text-stroke:0.15px #000">0.31</div>
<div class="t" style="left:236px;top:244.9px;font-size:13.3px;font-family:'Liberation Sans', sans-serif;color:#000;-webkit-text-stroke:0.15px #000">15</div>
<div class="t" style="left:236px;top:267.64px;font-size:13.3px;font-family:'Liberation Sans', sans-serif;color:#000;-webkit-text-stroke:0.15px #000">60</div>
<div class="t" style="left:236px;top:290.38px;font-size:13.3px;font-family:'Liberation Sans', sans-serif;color:#000;-webkit-text-stroke:0.15px #000">5.03</div>
<div class="t" style="left:236px;top:313.12px;font-size:13.3px;font-family:'Liberation Sans', sans-serif;color:#000;-webkit-text-stroke:0.15px #000">&lt;0.1</div>
<div class="t" style="left:236px;top:335.86px;font-size:13.3px;font-family:'Liberation Sans', sans-serif;color:#000;-webkit-text-stroke:0.15px #000">&lt;0.1</div>
<div class="t" style="left:236px;top:358.6px;font-size:13.3px;font-family:'Liberation Sans', sans-serif;color:#000;-webkit-text-stroke:0.15px #000">148.85</div>
<div class="t" style="left:236px;top:381.34px;font-size:13.3px;font-family:'Liberation Sans', sans-serif;color:#000;-webkit-text-stroke:0.15px #000">276.38±2</div>
<div class="t" style="left:236px;top:404.08px;font-size:13.3px;font-family:'Liberation Sans', sans-serif;color:#000;-webkit-text-stroke:0.15px #000">0.0667</div>
<div class="t" style="left:236px;top:426.82px;font-size:13.3px;font-family:'Liberation Sans', sans-serif;color:#000;-webkit-text-stroke:0.15px #000">C<span class="c">接口</span></div>
<div class="t" style="left:236px;top:449.56px;font-size:13.3px;font-family:'Liberation Sans', sans-serif;color:#000;-webkit-text-stroke:0.15px #000"><span class="c">是</span></div>
<div class="t" style="left:236px;top:495.04px;font-size:13.3px;font-family:'Liberation Sans', sans-serif;color:#000;-webkit-text-stroke:0.15px #000">0-60℃</div>
<div class="t" style="left:83px;top:539.9px;font-size:13.3px;font-family:'Liberation Sans', sans-serif;color:#000;-webkit-text-stroke:0.15px #000"><span class="c">测量范围</span>:</div>
<div class="t" style="left:83px;top:565.0px;font-size:13.3px;font-family:'Liberation Sans', sans-serif;color:#000;-webkit-text-stroke:0.15px #000"><span class="c">兼容芯片</span></div>
<div class="t" style="left:173px;top:565.0px;font-size:13.3px;font-family:'Liberation Sans', sans-serif;color:#000;-webkit-text-stroke:0.15px #000"><span class="c">靶面尺寸</span>（V*H）</div>
<div class="t" style="left:283.5px;top:565.0px;font-size:13.3px;font-family:'Liberation Sans', sans-serif;color:#000;-webkit-text-stroke:0.15px #000"><span class="c">视场</span>FOV</div>
<div class="t" style="left:83px;top:588.0px;font-size:13.3px;font-family:'Liberation Sans', sans-serif;color:#000;-webkit-text-stroke:0.15px #000">1/3"CCD</div>
<div class="t" style="left:173px;top:588.0px;font-size:13.3px;font-family:'Liberation Sans', sans-serif;color:#000;-webkit-text-stroke:0.15px #000">(4.8*3.6)</div>
<div class="t" style="left:284.5px;top:588.0px;font-size:13.3px;font-family:'Liberation Sans', sans-serif;color:#000;-webkit-text-stroke:0.15px #000">2.4*1.8mm</div>
<div class="t" style="left:83px;top:610.1999999999999px;font-size:13.3px;font-family:'Liberation Sans', sans-serif;color:#000;-webkit-text-stroke:0.15px #000">1/2"CCD</div>
<div class="t" style="left:173px;top:610.1999999999999px;font-size:13.3px;font-family:'Liberation Sans', sans-serif;color:#000;-webkit-text-stroke:0.15px #000">(6.4*4.8)</div>
<div class="t" style="left:284.5px;top:610.1999999999999px;font-size:13.3px;font-family:'Liberation Sans', sans-serif;color:#000;-webkit-text-stroke:0.15px #000">3.2*2.4mm</div>
<div class="t" style="left:83px;top:632.4px;font-size:13.3px;font-family:'Liberation Sans', sans-serif;color:#000;-webkit-text-stroke:0.15px #000">2/3"CCD</div>
<div class="t" style="left:173px;top:632.4px;font-size:13.3px;font-family:'Liberation Sans', sans-serif;color:#000;-webkit-text-stroke:0.15px #000">(8.4*7.1)</div>
<div class="t" style="left:284.5px;top:632.4px;font-size:13.3px;font-family:'Liberation Sans', sans-serif;color:#000;-webkit-text-stroke:0.15px #000">4.2*3.6mm</div>
<div class="t" style="left:85.00px;top:59.85px;font-family:'Liberation Serif', serif;font-size:16px;font-weight:400;color:#222;transform-origin:63.50px 7.50px;transform:scale(0.9845,1.0091);"><span style="display:inline-flex;justify-content:center;width:8px"><span style="display:inline-block;transform:scaleX(0.900)">T</span></span><span style="display:inline-flex;justify-content:center;width:8px"><span style="display:inline-block;transform:scaleX(0.900)">E</span></span><span style="display:inline-flex;justify-content:center;width:8px"><span style="display:inline-block;transform:scaleX(0.825)">C</span></span><span style="display:inline-flex;justify-content:center;width:8px"><span style="display:inline-block;transform:scaleX(1.000)">-</span></span><span style="display:inline-flex;justify-content:center;width:8px"><span style="display:inline-block;transform:scaleX(0.762)">U</span></span><span style="display:inline-flex;justify-content:center;width:8px"><span style="display:inline-block;transform:scaleX(0.619)">M</span></span><span style="display:inline-flex;justify-content:center;width:8px"><span style="display:inline-block;transform:scaleX(1.000)">2</span></span><span style="display:inline-flex;justify-content:center;width:8px"><span style="display:inline-block;transform:scaleX(1.000)">0</span></span><span style="display:inline-flex;justify-content:center;width:8px"><span style="display:inline-block;transform:scaleX(1.000)">1</span></span><span style="display:inline-flex;justify-content:center;width:8px"><span style="display:inline-block;transform:scaleX(1.000)">1</span></span><span style="display:inline-flex;justify-content:center;width:8px"><span style="display:inline-block;transform:scaleX(1.000)">0</span></span><span style="display:inline-flex;justify-content:center;width:8px"><span style="display:inline-block;transform:scaleX(0.619)">M</span></span><span style="display:inline-flex;justify-content:center;width:8px"><span style="display:inline-block;transform:scaleX(0.989)">P</span></span><span style="display:inline-flex;justify-content:center;width:8px"><span style="display:inline-block;transform:scaleX(0.583)">W</span></span><span style="display:inline-flex;justify-content:center;width:8px"><span style="display:inline-block;transform:scaleX(1.000)">-</span></span><span style="display:inline-flex;justify-content:center;width:8px"><span style="display:inline-block;transform:scaleX(0.825)">C</span></span></div>
<div class="t" style="left:687.10px;top:173.20px;font-family:'Liberation Serif', serif;font-size:10.5px;font-weight:400;color:#3a3a3a;transform-origin:16.00px 4.50px;transform:scale(1.0400,1.0000);">148<span style="margin-right:0.22em">.</span>85</div>
<div class="t" style="left:438.30px;top:195.75px;font-family:'Liberation Serif', serif;font-size:16px;font-weight:400;color:#3a3a3a;transform-origin:23.50px 7.50px;transform:scale(0.6449,0.7364);"><span style="display:inline-flex;justify-content:center;width:8px"><span style="display:inline-block;transform:scaleX(0.583)">W</span></span><span style="display:inline-flex;justify-content:center;width:8px"><span style="display:inline-block;transform:scaleX(0.762)">D</span></span><span style="display:inline-flex;justify-content:center;width:8px"><span style="display:inline-block;transform:scaleX(0.975)">=</span></span><span style="display:inline-flex;justify-content:center;width:8px"><span style="display:inline-block;transform:scaleX(1.000)">1</span></span><span style="display:inline-flex;justify-content:center;width:8px"><span style="display:inline-block;transform:scaleX(1.000)">1</span></span><span style="display:inline-flex;justify-content:center;width:8px"><span style="display:inline-block;transform:scaleX(1.000)">0</span></span></div>
<div class="t" style="left:541.50px;top:198.25px;font-family:'Liberation Serif', serif;font-size:10.5px;font-weight:400;color:#3a3a3a;transform-origin:5.00px 4.50px;transform:scale(1.1000,1.2143);">30</div>
<div class="t" style="left:540.00px;top:213.60px;font-family:'Liberation Serif', serif;font-size:10.5px;font-weight:400;color:#3a3a3a;transform-origin:10.00px 4.50px;transform:scale(1.1000,1.1143);">3<span style="margin-right:0.22em">.</span>62</div>
<div class="t" style="left:630.00px;top:191.95px;font-family:'Liberation Serif', serif;font-size:10.5px;font-weight:400;color:#3a3a3a;transform-origin:5.00px 4.50px;transform:scale(1.0000,1.1286);">30</div>
<div class="t" style="left:618.90px;top:209.90px;font-family:'Liberation Serif', serif;font-size:16px;font-weight:400;color:#3a3a3a;transform-origin:11.50px 7.50px;transform:scale(0.7520,0.5846);"><span style="display:inline-flex;justify-content:center;width:8px"><span style="display:inline-block;transform:scaleX(0.764)">Ø</span></span><span style="display:inline-flex;justify-content:center;width:8px"><span style="display:inline-block;transform:scaleX(1.000)">1</span></span><span style="display:inline-flex;justify-content:center;width:8px"><span style="display:inline-block;transform:scaleX(1.000)">8</span></span></div>
<div class="t" style="left:695.00px;top:213.50px;font-family:'Liberation Serif', serif;font-size:10.5px;font-weight:400;color:#3a3a3a;transform-origin:7.50px 4.50px;transform:scale(1.0000,1.1429);">3<span style="margin-right:0.22em">.</span>5</div>
<div class="t" style="left:764.00px;top:192.15px;font-family:'Liberation Serif', serif;font-size:10.5px;font-weight:400;color:#3a3a3a;transform-origin:13.00px 4.50px;transform:scale(1.0000,1.1857);">71<span style="margin-right:0.22em">.</span>24</div>
<div class="t" style="left:607.20px;top:410.95px;font-family:'Liberation Serif', serif;font-size:10.5px;font-weight:400;color:#3a3a3a;transform-origin:5.50px 4.50px;transform:scale(0.9778,1.1286);">13</div>
<div class="t" style="left:696.45px;top:266.15px;font-family:'Liberation Serif', serif;font-size:10.5px;font-weight:400;color:#3a3a3a;transform-origin:10.50px 4.50px;transform:rotate(-90deg) scale(1.0524,1.2143);">23<span style="margin-right:0.22em">.</span>5</div>
<div class="t" style="left:538.50px;top:338.80px;font-family:'Liberation Serif', serif;font-size:16px;font-weight:400;color:#3a3a3a;transform-origin:11.50px 7.50px;transform:rotate(-90deg) scale(0.7440,0.6154);"><span style="display:inline-flex;justify-content:center;width:8px"><span style="display:inline-block;transform:scaleX(0.764)">Ø</span></span><span style="display:inline-flex;justify-content:center;width:8px"><span style="display:inline-block;transform:scaleX(1.000)">3</span></span><span style="display:inline-flex;justify-content:center;width:8px"><span style="display:inline-block;transform:scaleX(1.000)">3</span></span></div>
<div class="t" style="left:765.25px;top:338.85px;font-family:'Liberation Serif', serif;font-size:16px;font-weight:400;color:#3a3a3a;transform-origin:11.50px 7.50px;transform:rotate(-90deg) scale(0.8520,0.6077);"><span style="display:inline-flex;justify-content:center;width:8px"><span style="display:inline-block;transform:scaleX(0.764)">Ø</span></span><span style="display:inline-flex;justify-content:center;width:8px"><span style="display:inline-block;transform:scaleX(1.000)">2</span></span><span style="display:inline-flex;justify-content:center;width:8px"><span style="display:inline-block;transform:scaleX(1.000)">8</span></span></div>
<div class="t" style="left:918.65px;top:339.10px;font-family:'Liberation Serif', serif;font-size:16px;font-weight:400;color:#3a3a3a;transform-origin:11.00px 7.50px;transform:rotate(-90deg) scale(0.7500,0.5923);"><span style="display:inline-flex;justify-content:center;width:8px"><span style="display:inline-block;transform:scaleX(0.764)">Ø</span></span><span style="display:inline-flex;justify-content:center;width:8px"><span style="display:inline-block;transform:scaleX(1.000)">3</span></span><span style="display:inline-flex;justify-content:center;width:8px"><span style="display:inline-block;transform:scaleX(1.000)">1</span></span></div>
<div class="t" style="left:915.85px;top:278.15px;font-family:'Liberation Sans', sans-serif;font-size:10px;font-weight:400;color:#3a3a5a;transform-origin:13.00px 4.50px;transform:scale(1.0115,1.0778);">C接口</div>
<div class="t" style="left:529.55px;top:669.55px;font-family:'Liberation Serif', serif;font-size:9.5px;font-weight:400;color:#222;transform-origin:12.50px 4.00px;transform:scale(1.0000,1.0000);">序&ensp;号</div>
<div class="t" style="left:591.60px;top:669.40px;font-family:'Liberation Serif', serif;font-size:9.2px;font-weight:400;color:#222;transform-origin:18.00px 4.00px;transform:scale(1.0000,1.0000);">更改说明</div>
<div class="t" style="left:643.75px;top:669.90px;font-family:'Liberation Serif', serif;font-size:9.5px;font-weight:400;color:#222;transform-origin:12.00px 3.50px;transform:scale(1.0000,1.0000);">版&ensp;次</div>
<div class="t" style="left:692.50px;top:660.45px;font-family:'Liberation Serif', serif;font-size:9.5px;font-weight:400;color:#222;transform-origin:10.00px 3.50px;transform:scale(1.0000,1.0000);">设计</div>
<div class="t" style="left:692.50px;top:677.15px;font-family:'Liberation Serif', serif;font-size:9.5px;font-weight:400;color:#222;transform-origin:10.00px 4.00px;transform:scale(1.0000,1.0000);">审核</div>
<div class="t" style="left:692.50px;top:694.20px;font-family:'Liberation Serif', serif;font-size:9.5px;font-weight:400;color:#222;transform-origin:10.00px 4.00px;transform:scale(1.0000,1.0000);">核准</div>
<div class="t" style="left:692.00px;top:711.80px;font-family:'Liberation Serif', serif;font-size:9.5px;font-weight:400;color:#222;transform-origin:10.50px 3.50px;transform:scale(1.0000,1.0000);">日期</div>
<div class="t" style="left:764.75px;top:660.45px;font-family:'Liberation Serif', serif;font-size:9.5px;font-weight:400;color:#222;transform-origin:20.00px 3.50px;transform:scale(1.0000,1.0000);">产品名称</div>
<div class="t" style="left:774.35px;top:677.65px;font-family:'Liberation Serif', serif;font-size:9.5px;font-weight:400;color:#222;transform-origin:10.00px 3.50px;transform:scale(1.0000,1.0000);">材质</div>
<div class="t" style="left:930.05px;top:660.60px;font-family:'Liberation Serif', serif;font-size:9.5px;font-weight:400;color:#222;transform-origin:10.00px 3.50px;transform:scale(1.0000,1.0000);">单位</div>
<div class="t" style="left:930.00px;top:678.40px;font-family:'Liberation Serif', serif;font-size:9.5px;font-weight:400;color:#222;transform-origin:10.50px 3.50px;transform:scale(1.0000,1.0000);">比例</div>
<div class="t" style="left:930.50px;top:695.10px;font-family:'Liberation Serif', serif;font-size:9.5px;font-weight:400;color:#222;transform-origin:10.00px 3.50px;transform:scale(1.0000,1.0000);">版本</div>
<div class="t" style="left:981.55px;top:660.45px;font-family:'Liberation Serif', serif;font-size:8px;font-weight:400;color:#222;transform-origin:6.00px 4.00px;transform:scale(0.7750,1.2250);">mm</div>
<div class="t" style="left:971.35px;top:674.35px;font-family:'Liberation Serif', serif;font-size:16px;font-weight:400;color:#222;transform-origin:16.00px 7.50px;transform:scale(0.5967,0.5909);"><span style="display:inline-flex;justify-content:center;width:8px"><span style="display:inline-block;transform:scaleX(1.000)">1</span></span><span style="display:inline-flex;justify-content:center;width:8px"><span style="display:inline-block;transform:scaleX(1.000)">:</span></span><span style="display:inline-flex;justify-content:center;width:8px"><span style="display:inline-block;transform:scaleX(1.000)">0</span></span><span style="display:inline-flex;justify-content:center;width:8px"><span style="display:inline-block;transform:scaleX(1.000)">1</span></span></div>
<div class="t" style="left:793.85px;top:654.80px;font-family:'Liberation Serif', serif;font-size:16px;font-weight:400;color:#222;transform-origin:63.50px 7.50px;transform:scale(0.6581,0.7091);"><span style="display:inline-flex;justify-content:center;width:8px"><span style="display:inline-block;transform:scaleX(0.900)">T</span></span><span style="display:inline-flex;justify-content:center;width:8px"><span style="display:inline-block;transform:scaleX(0.900)">E</span></span><span style="display:inline-flex;justify-content:center;width:8px"><span style="display:inline-block;transform:scaleX(0.825)">C</span></span><span style="display:inline-flex;justify-content:center;width:8px"><span style="display:inline-block;transform:scaleX(1.000)">-</span></span><span style="display:inline-flex;justify-content:center;width:8px"><span style="display:inline-block;transform:scaleX(0.762)">U</span></span><span style="display:inline-flex;justify-content:center;width:8px"><span style="display:inline-block;transform:scaleX(0.619)">M</span></span><span style="display:inline-flex;justify-content:center;width:8px"><span style="display:inline-block;transform:scaleX(1.000)">2</span></span><span style="display:inline-flex;justify-content:center;width:8px"><span style="display:inline-block;transform:scaleX(1.000)">0</span></span><span style="display:inline-flex;justify-content:center;width:8px"><span style="display:inline-block;transform:scaleX(1.000)">1</span></span><span style="display:inline-flex;justify-content:center;width:8px"><span style="display:inline-block;transform:scaleX(1.000)">1</span></span><span style="display:inline-flex;justify-content:center;width:8px"><span style="display:inline-block;transform:scaleX(1.000)">0</span></span><span style="display:inline-flex;justify-content:center;width:8px"><span style="display:inline-block;transform:scaleX(0.619)">M</span></span><span style="display:inline-flex;justify-content:center;width:8px"><span style="display:inline-block;transform:scaleX(0.989)">P</span></span><span style="display:inline-flex;justify-content:center;width:8px"><span style="display:inline-block;transform:scaleX(0.583)">W</span></span><span style="display:inline-flex;justify-content:center;width:8px"><span style="display:inline-block;transform:scaleX(1.000)">-</span></span><span style="display:inline-flex;justify-content:center;width:8px"><span style="display:inline-block;transform:scaleX(0.825)">C</span></span></div>
<div class="t" style="left:813.60px;top:72.20px;font-family:'Liberation Sans', sans-serif;font-size:14px;font-weight:400;color:#444;transform-origin:87.50px 7.00px;transform:scale(0.9977,1.0400);letter-spacing:2.8px;word-spacing:-2px">UNITE BEST VISION</div>
</body></html>
